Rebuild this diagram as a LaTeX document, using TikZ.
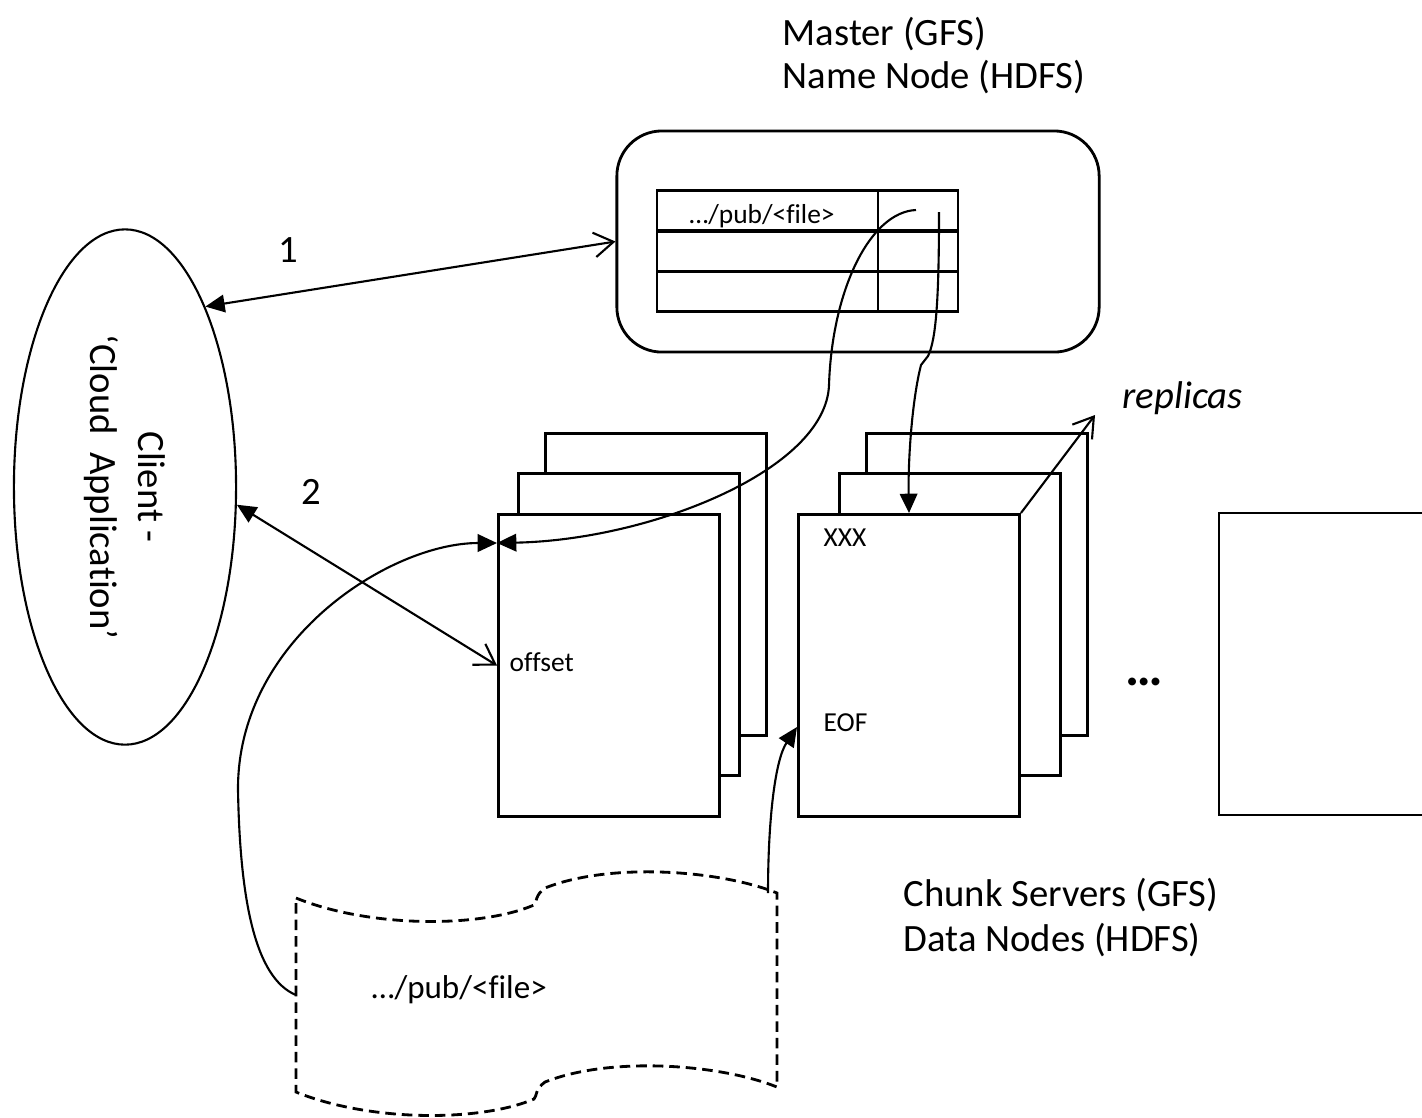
\documentclass[tikz,border=0pt]{standalone}
\usepackage{fontspec}
\setmainfont{Carlito}[Ligatures=NoCommon]
\usetikzlibrary{arrows.meta,shapes.geometric,positioning}

\tikzset{
  boxline/.style={line width=0.8pt},
  chunkbox/.style={draw, boxline, fill=white, minimum width=2.21cm, minimum height=3.02cm, inner sep=0pt},
  cellbox/.style={draw, boxline, minimum height=0.403cm, inner sep=0pt},
  bigtext/.style={font=\fontsize{11}{13.6}\selectfont, inner sep=0pt},
  midtext/.style={font=\fontsize{9.4}{11}\selectfont, inner sep=0pt},
  smalltext/.style={font=\fontsize{7.8}{9}\selectfont, inner sep=0pt},
  link/.style={line width=0.6pt},
  solidhead/.tip={Triangle[length=5.5pt,width=5pt]},
  openhead/.tip={Straight Barb[length=5.5pt,width=7pt]},
}

\begin{document}
\begin{tikzpicture}[x=0.01cm, y=-0.01cm]
  \useasboundingbox (0,0) rectangle (1422,1117);

  % master with its table
  \node[draw, boxline, rounded corners=0.45cm, minimum width=4.82cm, minimum height=2.21cm] (master) at (858,241.5) {};
  \foreach \r/\y in {1/211, 2/251, 3/291.5} {
    \node[cellbox, minimum width=2.21cm] (name\r) at (767.5,\y) {};
    \node[cellbox, minimum width=0.80cm] (loc\r) at (918,\y) {};
  }
  \node[smalltext, anchor=base] (pathname) at (762,223) {…/pub/<file>};
  \node[bigtext, anchor=base west] (mastertitle) at (782,45) {Master (GFS)};
  \node[bigtext, anchor=base west] (nametitle) at (782,88) {Name Node (HDFS)};

  % client
  \node[draw, link, ellipse, minimum width=2.22cm, minimum height=5.15cm, inner sep=0pt] (client) at (125,487) {};
  \node[bigtext, rotate=-90, align=center] (clienttext) at (client.center) {Client -\\‘Cloud\ \ Application’};

  % chunk servers
  \foreach \g/\x/\m/\b in {1/497/517/544, 2/797/838/865} {
    \node[chunkbox, anchor=north west] (c\g-back) at (\b,432) {};
    \node[chunkbox, anchor=north west] (c\g-mid) at (\m,472) {};
    \node[chunkbox, anchor=north west] (c\g) at (\x,513) {};
  }
  \coordinate (c3a) at (1422,513);
  \coordinate (c3b) at (1219,815);
  \coordinate (c3c) at (1422,815);
  \draw[boxline] (c3a) -| (c3b) -- (c3c);
  \node[font=\fontsize{15}{17}\selectfont\bfseries, inner sep=0pt, anchor=base] (dots) at (1144,685) {…};

  \node[smalltext, anchor=base west] (offset) at (509,671) {offset};
  \node[smalltext, anchor=base west] (xxx) at (823,546) {XXX};
  \node[smalltext, anchor=base west] (eof) at (823,731) {EOF};
  \node[bigtext, anchor=base west] (chunktitle) at (903,906) {Chunk Servers (GFS)};
  \node[bigtext, anchor=base west] (datatitle) at (903,951) {Data Nodes (HDFS)};
  \node[bigtext, anchor=base west] (replicas) at (1122,408) {\itshape replicas};
  \node[bigtext, anchor=base] (step1) at (288,262) {1};
  \node[bigtext, anchor=base] (step2) at (311,504) {2};

  % the file
  \draw[boxline, dash pattern=on 3pt off 1.7pt]
    (296,898) .. controls (370,928) and (480,928) .. (534,905)
    .. controls (537,902) and (535,895) .. (545,888)
    .. controls (610,862) and (720,870) .. (777,893) -- (777,1087)
    .. controls (720,1064) and (610,1056) .. (545,1082)
    .. controls (535,1089) and (537,1096) .. (534,1099)
    .. controls (480,1122) and (370,1122) .. (296,1092) -- cycle;
  \node[midtext, anchor=base west] (filename) at (371,998) {…/pub/<file>};

  % connectors
  \coordinate (c1in) at (497,543);
  \coordinate (eofin) at (797,727);
  \coordinate (fileL) at (296,995);
  \coordinate (fileR) at (768,893);
  \coordinate (locA) at (916,210);
  \coordinate (locB) at (939,212);
  \coordinate (reptip) at (1095,415);

  \draw[link, solidhead-openhead] (client.66) -- (master.west);
  \draw[link, solidhead-openhead] (client.-9) -- (c1.west);
  \draw[link, -solidhead] (locA) .. controls (870,212) and (832,290) .. (829,385)
    .. controls (826,470) and (650,540) .. (c1in);
  \draw[link, -solidhead] (locB) .. controls (939,300) and (936,340) .. (928,356) -- (921,365)
    .. controls (912,400) and (908,460) .. (c2.north);
  \draw[link, -solidhead] (fileL) .. controls (255,978) and (240,900) .. (238,790)
    .. controls (237,640) and (390,543) .. (c1in);
  \draw[link, -solidhead] (fileR) .. controls (768,820) and (775,760) .. (eofin);
  \draw[link, -openhead] (c2.north east) -- (reptip);
\end{tikzpicture}
\end{document}
